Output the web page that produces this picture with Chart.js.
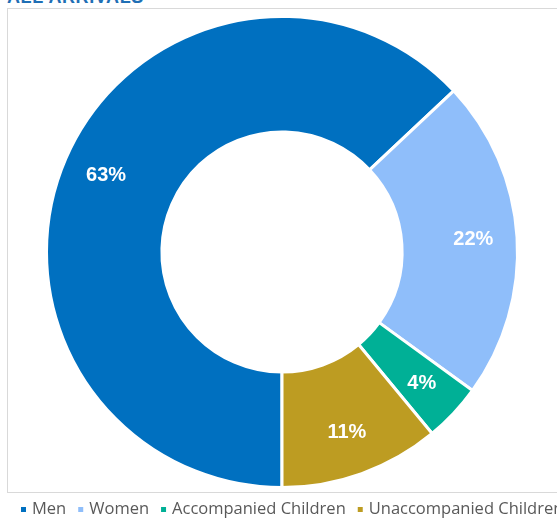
<!DOCTYPE html>
<html>
<head>
<meta charset="utf-8">
<script src="https://cdn.jsdelivr.net/npm/chart.js@4.4.1/dist/chart.umd.min.js"></script>
<style>
  html, body { margin: 0; padding: 0; background: #fff; overflow: hidden; }
  body { width: 557px; height: 519px; position: relative; }
  #title { position: absolute; left: 7px; top: -13px; font: bold 18px "Liberation Sans", Arial, sans-serif; color: #1f6fb5; letter-spacing: 0.6px; }
  #frame { position: absolute; left: 7px; top: 8px; width: 600px; height: 483px; border: 1px solid #d9d9d9; }
  #wrap { position: absolute; left: 0; top: 0; width: 557px; height: 519px; }
</style>
</head>
<body>
<div id="title">ALL ARRIVALS</div>
<div id="frame"></div>
<div id="wrap"><canvas id="chart"></canvas></div>
<script>
/* data */
const categories = ["Men", "Women", "Accompanied Children", "Unaccompanied Children"];
const shares = [63, 22, 4, 11];
const sliceColors = ["#0070c0", "#8fbefa", "#00b096", "#bd9c22"];

/* white % labels on each slice, a bit outside the ring middle like Excel */
const sliceLabels = {
  id: 'sliceLabels',
  afterDatasetsDraw(chart) {
    const ctx = chart.ctx;
    const meta = chart.getDatasetMeta(0);
    ctx.save();
    ctx.fillStyle = '#ffffff';
    ctx.font = 'bold 20px "Liberation Sans", Arial, sans-serif';
    ctx.textAlign = 'center';
    ctx.textBaseline = 'middle';
    meta.data.forEach((arc, i) => {
      const p = arc.getProps(['x', 'y', 'startAngle', 'endAngle', 'innerRadius', 'outerRadius'], true);
      const mid = (p.startAngle + p.endAngle) / 2;
      const r = p.innerRadius + (p.outerRadius - p.innerRadius) * 0.62;
      ctx.fillText(shares[i] + '%', p.x + Math.cos(mid) * r, p.y + Math.sin(mid) * r);
    });
    ctx.restore();
  }
};

/* one-line legend along the bottom, running off the right edge */
const bottomLegend = {
  id: 'bottomLegend',
  afterDraw(chart) {
    const ctx = chart.ctx;
    ctx.save();
    ctx.font = '16.5px "Open Sans", sans-serif';
    ctx.textBaseline = 'middle';
    let x = 21;
    const y = 509;
    categories.forEach((name, i) => {
      ctx.fillStyle = sliceColors[i];
      ctx.fillRect(x, y - 2, 5, 5);
      x += 11;
      ctx.fillStyle = '#595959';
      ctx.fillText(name, x, y);
      x += ctx.measureText(name).width + 12;
    });
    ctx.restore();
  }
};

new Chart(document.getElementById('chart'), {
  type: 'doughnut',
  data: {
    labels: categories,
    datasets: [{
      data: shares,
      backgroundColor: sliceColors,
      borderColor: '#ffffff',
      borderWidth: 3
    }]
  },
  options: {
    responsive: true,
    maintainAspectRatio: false,
    animation: false,
    rotation: 180,
    cutout: '51%',
    layout: { padding: { left: 45, right: 38, top: 15, bottom: 30 } },
    plugins: {
      tooltip: { enabled: false },
      legend: { display: false }
    }
  },
  plugins: [sliceLabels, bottomLegend]
});
</script>
</body>
</html>
